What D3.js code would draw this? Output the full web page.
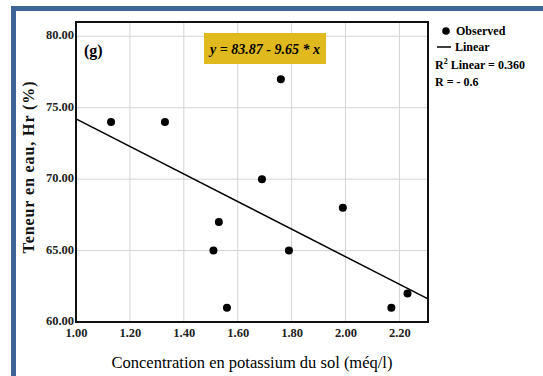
<!DOCTYPE html>
<html>
<head>
<meta charset="utf-8"/>
<script src="https://cdn.jsdelivr.net/npm/d3@7"></script>
<style>
html, body { margin: 0; padding: 0; background: #fff; }
svg { display: block; font-family: "Liberation Serif", "Times New Roman", serif; }
.grid line { stroke: #d4d4d4; stroke-width: 1; }
.tick text { font-family: "Liberation Serif", "Times New Roman", serif; font-weight: bold; font-size: 12.5px; fill: #222; }
</style>
</head>
<body>
<svg id="chart" width="543" height="376"></svg>
<script>
// observed points
var potassium = [1.13, 1.33, 1.76, 1.69, 1.99, 1.53, 1.51, 1.79, 1.56, 2.17, 2.23];
var teneur    = [74,   74,   77,   70,   68,   67,   65,   65,   61,   61,   62];

// fit y = a + b*x
var intercept = 83.87;
var slope = -9.65;

var xTicks = [1.0, 1.2, 1.4, 1.6, 1.8, 2.0, 2.2];
var yTicks = [60, 65, 70, 75, 80];
var xDomain = [1.0, 2.306];
var yDomain = [60, 81];

var legendLines = ["Observed", "Linear", "Linear = 0.360", "R = - 0.6"];

var svg = d3.select("#chart");

// blue frame
svg.append("rect")
    .attr("x", 13.5).attr("y", 8.5)
    .attr("width", 540).attr("height", 400)
    .attr("fill", "none")
    .attr("stroke", "#3f6496")
    .attr("stroke-width", 5);

var pLeft = 76, pRight = 428, pTop = 22, pBottom = 322;

var x = d3.scaleLinear().domain(xDomain).range([pLeft, pRight]);
var y = d3.scaleLinear().domain(yDomain).range([pBottom, pTop]);

// grid
var grid = svg.append("g").attr("class", "grid");
grid.selectAll("line.v")
    .data(xTicks.slice(1))
  .enter().append("line")
    .attr("class", "v")
    .attr("x1", function(d) { return x(d); }).attr("x2", function(d) { return x(d); })
    .attr("y1", pTop).attr("y2", pBottom);
grid.selectAll("line.h")
    .data(yTicks.slice(1))
  .enter().append("line")
    .attr("class", "h")
    .attr("y1", function(d) { return y(d); }).attr("y2", function(d) { return y(d); })
    .attr("x1", pLeft).attr("x2", pRight);

// axes (labels only, frame drawn below)
var xAxis = svg.append("g")
    .attr("transform", "translate(0," + pBottom + ")")
    .call(d3.axisBottom(x).tickValues(xTicks).tickSize(0).tickPadding(6)
      .tickFormat(d3.format(".2f")));
xAxis.select(".domain").remove();

var yAxis = svg.append("g")
    .attr("transform", "translate(" + pLeft + ",0)")
    .call(d3.axisLeft(y).tickValues(yTicks).tickSize(0).tickPadding(2)
      .tickFormat(d3.format(".2f")));
yAxis.select(".domain").remove();
yAxis.selectAll(".tick text").attr("dy", "0.2em");

// regression line
svg.append("line")
    .attr("x1", x(xDomain[0])).attr("y1", y(intercept + slope * xDomain[0]))
    .attr("x2", x(xDomain[1])).attr("y2", y(intercept + slope * xDomain[1]))
    .attr("stroke", "#000")
    .attr("stroke-width", 1.5);

// points
svg.append("g").selectAll("circle")
    .data(potassium)
  .enter().append("circle")
    .attr("cx", function(d) { return x(d); })
    .attr("cy", function(d, i) { return y(teneur[i]); })
    .attr("r", 4)
    .attr("fill", "#000");

// plot frame
svg.append("rect")
    .attr("x", pLeft).attr("y", pTop)
    .attr("width", pRight - pLeft).attr("height", pBottom - pTop)
    .attr("fill", "none")
    .attr("stroke", "#111")
    .attr("stroke-width", 2);

// panel label
svg.append("text")
    .attr("x", 84).attr("y", 56)
    .attr("font-size", 16).attr("font-weight", "bold")
    .text("(g)");

// equation box
svg.append("rect")
    .attr("x", 204).attr("y", 33)
    .attr("width", 122).attr("height", 31)
    .attr("fill", "#e0b91f");
svg.append("text")
    .attr("x", 265).attr("y", 54)
    .attr("text-anchor", "middle")
    .attr("font-size", 14).attr("font-weight", "bold").attr("font-style", "italic")
    .text("y = " + intercept.toFixed(2) + " - " + (-slope).toFixed(2) + " * x");

// axis titles
svg.append("text")
    .attr("x", 252).attr("y", 368)
    .attr("text-anchor", "middle")
    .attr("font-size", 16.5)
    .attr("fill", "#000")
    .text("Concentration en potassium du sol (méq/l)");

svg.append("text")
    .attr("transform", "translate(34,167) rotate(-90)")
    .attr("text-anchor", "middle")
    .attr("font-size", 16).attr("font-weight", "bold")
    .attr("letter-spacing", 0.9)
    .attr("fill", "#111")
    .text("Teneur en eau, Hr (%)");

// legend
var lg = svg.append("g").attr("font-size", 12).attr("font-weight", "bold");
lg.append("circle").attr("cx", 446).attr("cy", 31).attr("r", 3.8).attr("fill", "#000");
lg.append("text").attr("x", 456).attr("y", 35).text(legendLines[0]);
lg.append("line").attr("x1", 437).attr("x2", 451).attr("y1", 47).attr("y2", 47)
    .attr("stroke", "#000").attr("stroke-width", 1.5);
lg.append("text").attr("x", 455).attr("y", 51).text(legendLines[1]);
var r2 = lg.append("text").attr("x", 435).attr("y", 69);
r2.append("tspan").text("R");
r2.append("tspan").attr("dy", -5).attr("font-size", 8).text("2");
r2.append("tspan").attr("dy", 5).attr("dx", 3).text(legendLines[2]);
lg.append("text").attr("x", 435).attr("y", 86).text(legendLines[3]);
</script>
</body>
</html>
